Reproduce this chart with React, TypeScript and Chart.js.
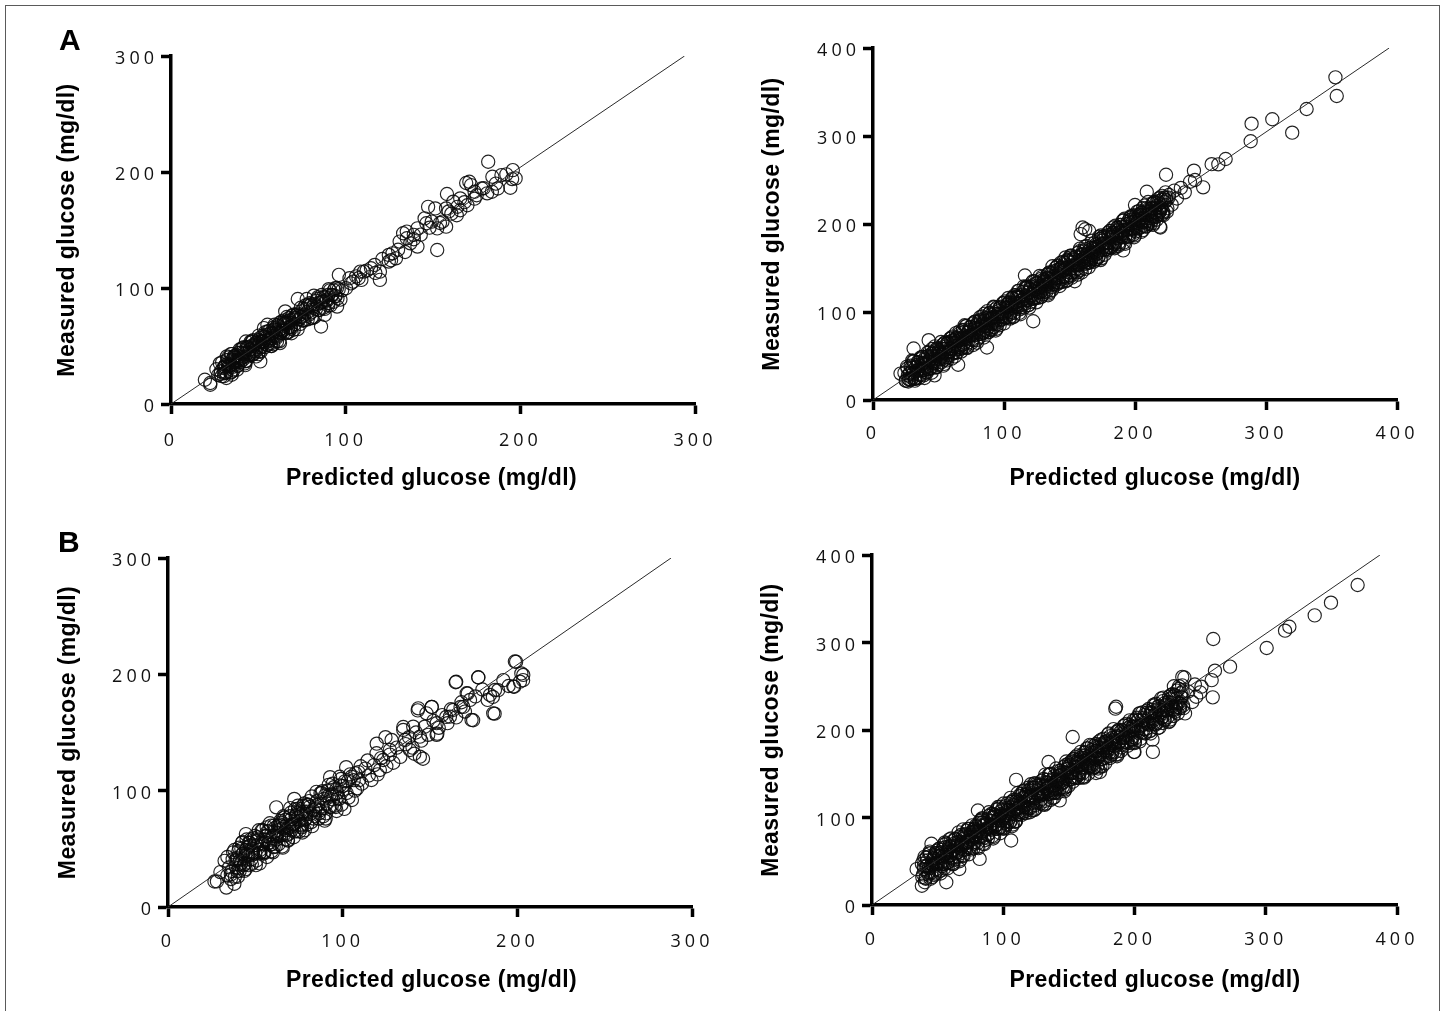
import React, { useEffect, useRef } from 'react';
import { Chart, registerables, LinearScale } from 'chart.js';

Chart.register(...registerables);

// ---------------- DATA ----------------
const ticks300 = [0, 100, 200, 300];
const ticks400 = [0, 100, 200, 300, 400];
const yTitle = 'Measured glucose (mg/dl)';
const xTitle = 'Predicted glucose (mg/dl)';

// reference lines: from origin to [predicted, measured]
const aLeftLineEnd: [number, number] = [294, 300];
const aRightLineEnd: [number, number] = [394, 400];
const bLeftLineEnd: [number, number] = [288, 300];
const bRightLineEnd: [number, number] = [387, 400];

// Panel A, left: [predicted, measured]
const aLeftPoints: [number, number][] = [
  [181.6, 208.8], [195.7, 201.6], [195.3, 193.9], [194.3, 186.4], [197.3, 194.5], [189.2, 197.3], [184, 195.9], [183.7, 183],
  [181, 181.6], [170.8, 191.6], [171.8, 188.7], [169, 190.5], [173.8, 177], [169.7, 171.3], [165.6, 167], [163.6, 162.7],
  [160.5, 164.1], [158, 181], [147.2, 170], [151.3, 168.6], [155.4, 157.2], [157.5, 152.9], [152.4, 151.4], [149.3, 157.2],
  [146.2, 155.8], [152.4, 132.8], [141.1, 135.7], [139, 145.8], [135, 142.9], [132.9, 147.2], [137, 138.5], [126.8, 129.9],
  [128.8, 125.6], [124.7, 122.8], [119.6, 114.1], [119.6, 107], [114.5, 117], [110.4, 114.1], [107.4, 108.4], [104.3, 105.5],
  [96.1, 111.3], [100.2, 99.8], [94, 99.8], [90, 94], [86.9, 88.3], [85.9, 66.8], [95.1, 84], [88, 76.8], [72.6, 90.5],
  [81.8, 93.4], [79.8, 84.9], [75.7, 82], [71.6, 76.3], [67.5, 74], [63.4, 71.1], [59.3, 68.3], [55.2, 62.5], [53.2, 65.4],
  [62.4, 52.5], [57.3, 56.8], [51.1, 53.9], [47, 51], [42.9, 53.9], [40.9, 48.2], [51.1, 36.7], [45, 42.4], [38.9, 36.7],
  [34.8, 33.8], [30.7, 32.4], [28.6, 28.1], [34.8, 25.2], [31.7, 22.4], [22.5, 18.1], [19.4, 20.9], [22.5, 16.6], [37.8, 29.5],
  [55.2, 68.3], [65.4, 79.8], [77.7, 90.5], [83.8, 90.5], [90, 84.9], [102.2, 108.4], [108.4, 114.1], [116.6, 119.9],
  [124.7, 128.5], [130.9, 140], [135, 148.6], [141.1, 151.4], [145.2, 160], [157.5, 168.6], [161.6, 174.4], [165.6, 177.2],
  [173.8, 183], [177.9, 185.8], [187.1, 185.8],
  [103, 104], [106, 110], [109, 107], [112, 115], [117, 113], [121, 125], [126, 124], [130, 133], [134, 131], [139, 142],
  [143, 146], [148, 152], [154, 156], [159, 166], [164, 170], [168, 174], [175, 180], [179, 186], [186, 190], [192, 198],
];
const aLeftCore: [number, number][] = [
  [26, 30], [27, 25], [28, 35], [29, 24], [30, 31], [31, 27], [32, 41], [33, 33], [34, 27], [35, 38], [36, 41], [37, 36],
  [38, 33], [39, 41], [40, 47], [41, 38], [42, 43], [43, 37], [44, 49], [45, 47], [46, 42], [47, 55], [48, 47], [49, 53],
  [50, 43], [51, 57], [52, 50], [53, 54], [54, 62], [55, 51], [56, 56], [57, 52], [58, 61], [59, 64], [60, 58], [61, 68],
  [62, 54], [63, 65], [64, 63], [65, 69], [66, 70], [67, 66], [68, 70], [69, 61], [70, 77], [71, 69], [72, 77], [73, 76],
  [74, 69], [75, 75], [76, 72], [77, 85], [78, 79], [79, 77], [80, 86], [81, 74], [82, 86], [83, 82], [84, 92], [85, 81],
  [86, 88], [87, 92], [88, 82], [89, 90], [90, 87], [91, 98], [92, 94], [93, 88], [94, 93], [95, 100], [96, 99], [97, 90], [98, 98],
  [30.5, 26.5], [32.5, 34.5], [34.5, 27.5], [36.5, 41.5], [38.5, 37.5], [40.5, 44.5], [42.5, 33.5], [44.5, 44.5], [46.5, 53.5],
  [48.5, 45.5], [50.5, 45.5], [52.5, 53.5], [54.5, 59.5], [56.5, 54.5], [58.5, 51.5], [60.5, 63.5], [62.5, 61.5], [64.5, 70.5],
  [66.5, 61.5], [68.5, 66.5], [70.5, 74.5], [72.5, 64.5], [74.5, 75.5], [76.5, 72.5], [78.5, 85.5], [80.5, 74.5],
  [28.3, 26], [29.3, 36], [30.3, 24], [31.3, 34], [32.3, 38], [33.3, 33], [34.3, 43], [35.3, 32], [36.3, 37], [37.3, 42],
  [38.3, 33], [39.3, 47], [40.3, 39], [41.3, 44], [42.3, 35], [43.3, 49], [44.3, 41], [45.3, 47], [46.3, 54], [47.3, 43],
  [48.3, 52], [49.3, 49], [50.3, 59], [51.3, 45], [52.3, 54], [53.3, 58], [54.3, 53], [55.3, 51], [56.3, 63], [57.3, 50],
  [58.3, 61], [59.3, 65], [60.3, 57], [61.3, 62], [62.3, 70], [63.3, 63], [64.3, 61], [65.3, 70], [66.3, 75], [67.3, 62],
  [68.3, 66], [69.3, 76], [70.3, 64], [71.3, 74], [72.3, 78], [73.3, 73], [74.3, 83], [75.3, 72], [76.3, 77], [77.3, 82],
  [78.3, 73], [79.3, 87], [80.3, 79], [81.3, 84], [82.3, 75], [83.3, 89], [84.3, 81], [85.3, 87], [86.3, 94], [87.3, 83],
  [88.3, 92], [89.3, 89], [90.3, 99], [91.3, 85], [92.3, 94], [93.3, 98], [94.3, 93], [95.3, 91],
  [30.7, 32], [31.7, 27], [32.7, 40], [33.7, 32], [34.7, 43], [35.7, 29], [36.7, 40], [37.7, 38], [38.7, 44], [39.7, 36],
  [40.7, 40], [41.7, 49], [42.7, 37], [43.7, 48], [44.7, 43], [45.7, 54], [46.7, 43], [47.7, 50], [48.7, 41], [49.7, 55],
  [50.7, 52], [51.7, 49], [52.7, 59], [53.7, 49], [54.7, 57], [55.7, 55], [56.7, 61], [57.7, 50], [58.7, 66], [59.7, 59],
  [60.7, 54], [61.7, 67], [62.7, 61], [63.7, 64], [64.7, 72], [65.7, 61], [66.7, 69], [67.7, 72], [68.7, 65], [69.7, 73],
];

// Panel A, right: [predicted, measured]
const aRightPoints: [number, number][] = [
  [24, 31], [25, 22], [26, 38], [27, 21], [28, 30], [29, 23], [30, 45], [31, 31], [32, 22], [33, 38], [34, 43], [35, 34],
  [36, 28], [37, 41], [38, 49], [39, 34], [40, 41], [41, 31], [42, 50], [43, 46], [44, 37], [45, 58], [46, 44], [47, 53],
  [48, 37], [49, 59], [50, 46], [51, 53], [52, 66], [53, 47], [54, 54], [55, 46], [56, 61], [57, 65], [58, 55], [59, 70],
  [60, 47], [61, 65], [62, 61], [63, 70], [64, 71], [65, 62], [66, 78], [67, 58], [68, 70], [69, 63], [70, 85], [71, 71],
  [72, 60], [73, 78], [74, 83], [75, 74], [76, 68], [77, 81], [78, 89], [79, 74], [80, 81], [81, 71], [82, 90], [83, 86],
  [84, 77], [85, 98], [86, 84], [87, 93], [88, 77], [89, 99], [90, 86], [91, 93], [92, 106], [93, 87], [94, 94], [95, 86],
  [96, 101], [97, 105], [98, 95], [99, 110], [100, 87], [101, 105], [102, 101], [103, 110], [104, 111], [105, 104], [106, 110],
  [107, 94], [108, 119], [109, 106], [110, 118], [111, 116], [112, 103], [113, 113], [114, 108], [115, 129], [116, 118],
  [117, 113], [118, 128], [119, 108], [120, 126], [121, 119], [122, 135], [123, 116], [124, 127], [125, 133], [126, 116],
  [127, 128], [128, 123], [129, 140], [130, 134], [131, 123], [132, 131], [133, 142], [134, 139], [135, 123], [136, 136],
  [137, 152], [138, 132], [139, 141], [140, 131], [141, 153], [142, 139], [143, 150], [144, 151], [145, 157], [146, 148],
  [147, 162], [148, 136], [149, 158], [150, 142], [151, 162], [152, 153], [153, 161], [154, 147], [155, 153], [156, 145],
  [157, 153], [158, 172], [159, 159], [160, 165], [161, 158], [162, 149], [163, 162], [164, 161], [165, 156], [166, 160],
  [167, 167], [168, 173], [169, 168], [170, 174], [171, 166], [172, 162], [173, 176], [174, 187], [175, 181], [176, 186],
  [177, 179], [178, 172], [179, 170], [180, 188], [181, 192], [182, 186], [183, 190], [184, 177], [185, 198], [186, 184],
  [187, 193], [188, 177], [189, 199], [190, 186], [191, 193], [192, 206], [193, 187], [194, 194], [195, 186], [196, 201],
  [197, 205], [198, 195], [199, 210], [200, 187], [201, 205], [202, 201], [203, 210], [204, 211], [205, 202], [206, 218],
  [207, 198], [208, 210], [209, 203], [210, 225], [211, 211], [212, 200], [213, 218], [214, 223], [215, 214], [216, 208],
  [217, 221], [218, 229], [219, 214], [220, 221], [221, 211], [222, 230], [224, 227], [226, 233], [228, 222], [230, 238],
  [232, 229], [235, 241], [238, 236],
  [353, 366.7], [354, 345.5], [331, 330.7], [320, 303.8], [304.8, 319], [289, 314], [288.3, 294], [269.2, 273.9], [263.6, 267.8],
  [258.5, 268], [245, 260.6], [252, 241.7], [245.8, 250], [242, 248], [223.7, 256], [219, 197], [221.7, 210], [209, 236.7],
  [191, 170], [200, 221.6], [206, 193], [122.3, 89.5], [116, 141.5], [87, 59.7], [65, 40], [47, 28], [21, 30], [31, 58.5],
  [42.5, 68], [219.4, 196], [160, 196], [158.5, 188.5], [154, 135], [162, 194], [165, 192],
];
const aRightBand2: [number, number][] = [
  [30.5, 36.5], [32.5, 24], [34.5, 34.5], [36.5, 48.5], [38.5, 33.5], [40.5, 31.5], [42.5, 43.5], [44.5, 52.5], [46.5, 42.5],
  [48.5, 37.5], [50.5, 55.5], [52.5, 51.5], [54.5, 64.5], [56.5, 48.5], [58.5, 55.5], [60.5, 67.5], [62.5, 49.5], [64.5, 66.5],
  [66.5, 60.5], [68.5, 79.5], [70.5, 60.5], [72.5, 76.5], [74.5, 72.5], [76.5, 62.5], [78.5, 84.5], [80.5, 80.5], [82.5, 91.5],
  [84.5, 79.5], [86.5, 78.5], [88.5, 91.5], [90.5, 79.5], [92.5, 105.5], [94.5, 90.5], [96.5, 97.5], [98.5, 91.5], [100.5, 93.5],
  [102.5, 105.5], [104.5, 92.5], [106.5, 115.5], [108.5, 106.5], [110.5, 116.5], [112.5, 97.5], [114.5, 114.5], [116.5, 128.5],
  [118.5, 113.5], [120.5, 111.5], [122.5, 123.5], [124.5, 132.5], [126.5, 122.5], [128.5, 117.5], [130.5, 135.5], [132.5, 131.5],
  [134.5, 144.5], [136.5, 128.5], [138.5, 135.5], [140.5, 147.5], [142.5, 129.5], [144.5, 146.5], [146.5, 140.5], [148.5, 159.5],
  [150.5, 140.5], [152.5, 156.5], [154.5, 152.5], [156.5, 142.5], [158.5, 164.5], [160.5, 160.5], [162.5, 171.5], [164.5, 159.5],
  [166.5, 158.5], [168.5, 171.5], [170.5, 159.5], [172.5, 185.5], [174.5, 170.5], [176.5, 177.5], [178.5, 171.5], [180.5, 173.5],
  [182.5, 185.5], [184.5, 172.5], [186.5, 195.5], [188.5, 186.5], [190.5, 196.5], [192.5, 177.5], [194.5, 194.5], [196.5, 208.5],
  [198.5, 193.5], [200.5, 191.5], [202.5, 203.5], [204.5, 212.5], [206.5, 202.5], [208.5, 197.5], [210.5, 215.5], [212.5, 211.5],
  [214.5, 224.5], [216.5, 208.5], [218.5, 215.5], [220.5, 227.5],
];
const aRightBand3: [number, number][] = [
  [25.3, 22], [26.3, 36], [27.3, 24], [28.3, 31], [29.3, 37], [30.3, 29], [31.3, 44], [32.3, 25], [33.3, 33], [34.3, 40],
  [35.3, 25], [36.3, 47], [37.3, 34], [38.3, 42], [39.3, 25], [40.3, 49], [41.3, 35], [42.3, 44], [43.3, 55], [44.3, 36],
  [45.3, 50], [46.3, 44], [47.3, 61], [48.3, 37], [49.3, 50], [50.3, 57], [51.3, 47], [52.3, 43], [53.3, 63], [54.3, 41],
  [55.3, 58], [56.3, 64], [57.3, 51], [58.3, 58], [59.3, 70], [60.3, 58], [61.3, 54], [62.3, 68], [63.3, 76], [64.3, 54],
  [65.3, 60], [66.3, 76], [67.3, 55], [68.3, 71], [69.3, 77], [70.3, 69], [71.3, 84], [72.3, 65], [73.3, 73], [74.3, 80],
  [75.3, 65], [76.3, 87], [77.3, 74], [78.3, 82], [79.3, 65], [80.3, 89], [81.3, 75], [82.3, 84], [83.3, 95], [84.3, 76],
  [85.3, 90], [86.3, 84], [87.3, 101], [88.3, 77], [89.3, 90], [90.3, 97], [91.3, 87], [92.3, 83], [93.3, 103], [94.3, 81],
  [95.3, 98], [96.3, 104], [97.3, 91], [98.3, 98], [99.3, 110], [100.3, 98], [101.3, 94], [102.3, 108], [103.3, 116], [104.3, 94],
  [105.3, 100], [106.3, 116], [107.3, 95], [108.3, 111], [109.3, 117], [110.3, 109], [111.3, 124], [112.3, 105], [113.3, 113], [114.3, 120],
  [115.3, 105], [116.3, 127], [117.3, 114], [118.3, 122], [119.3, 105], [120.3, 129], [121.3, 115], [122.3, 124], [123.3, 135], [124.3, 116],
  [125.3, 130], [126.3, 124], [127.3, 141], [128.3, 117], [129.3, 130], [130.3, 137], [131.3, 127], [132.3, 123], [133.3, 143], [134.3, 121],
  [135.3, 138], [136.3, 144], [137.3, 131], [138.3, 138], [139.3, 150], [140.3, 138], [141.3, 134], [142.3, 148], [143.3, 156], [144.3, 134],
  [145.3, 140], [146.3, 156], [147.3, 135], [148.3, 151], [149.3, 157], [150.3, 149], [151.3, 164], [152.3, 145], [153.3, 153], [154.3, 160],
  [155.3, 145], [156.3, 167], [157.3, 154], [158.3, 162], [159.3, 145], [160.3, 169], [161.3, 155], [162.3, 164], [163.3, 175], [164.3, 156],
  [165.3, 170], [166.3, 164], [167.3, 181], [168.3, 157], [169.3, 170], [170.3, 177], [171.3, 167], [172.3, 163], [173.3, 183], [174.3, 161],
  [175.3, 178], [176.3, 184], [177.3, 171], [178.3, 178], [179.3, 190], [180.3, 178], [181.3, 174], [182.3, 188], [183.3, 196], [184.3, 174],
  [185.3, 180], [186.3, 196], [187.3, 175], [188.3, 191], [189.3, 197], [190.3, 189], [191.3, 204], [192.3, 185], [193.3, 193], [194.3, 200],
  [195.3, 185], [196.3, 207], [197.3, 194], [198.3, 202], [199.3, 185], [200.3, 209], [201.3, 195], [202.3, 204], [203.3, 215], [204.3, 196],
  [205.3, 210], [206.3, 204], [207.3, 221], [208.3, 197], [209.3, 210], [210.3, 217], [211.3, 207], [212.3, 203], [213.3, 223], [214.3, 201],
  [215.3, 218], [216.3, 224], [217.3, 211], [218.3, 218], [219.3, 230], [220.3, 218], [221.3, 214], [222.3, 228], [223.3, 236], [224.3, 214],
];
const aRightBand4: [number, number][] = [
  [26.7, 28], [27.7, 23], [28.7, 39], [29.7, 25], [30.7, 44], [31.7, 24], [32.7, 37], [33.7, 33], [34.7, 43], [35.7, 29],
  [36.7, 35], [37.7, 49], [38.7, 28], [39.7, 46], [40.7, 37], [41.7, 54], [42.7, 35], [43.7, 46], [44.7, 31], [45.7, 53],
  [46.7, 47], [47.7, 42], [48.7, 58], [49.7, 40], [50.7, 54], [51.7, 49], [52.7, 58], [53.7, 39], [54.7, 65], [55.7, 54],
  [56.7, 45], [57.7, 66], [58.7, 54], [59.7, 59], [60.7, 72], [61.7, 53], [62.7, 65], [63.7, 70], [64.7, 58], [65.7, 70],
  [66.7, 68], [67.7, 59], [68.7, 79], [69.7, 65], [70.7, 84], [71.7, 59], [72.7, 77], [73.7, 73], [74.7, 83], [75.7, 69],
  [76.7, 75], [77.7, 89], [78.7, 68], [79.7, 86], [80.7, 77], [81.7, 94], [82.7, 75], [83.7, 86], [84.7, 71], [85.7, 93],
  [86.7, 87], [87.7, 82], [88.7, 98], [89.7, 80], [90.7, 94], [91.7, 89], [92.7, 98], [93.7, 79], [94.7, 105], [95.7, 94],
  [96.7, 85], [97.7, 106], [98.7, 94], [99.7, 99], [100.7, 112], [101.7, 93], [102.7, 105], [103.7, 110], [104.7, 98], [105.7, 110],
  [106.7, 108], [107.7, 99], [108.7, 119], [109.7, 105], [110.7, 124], [111.7, 99], [112.7, 117], [113.7, 113], [114.7, 123], [115.7, 109],
  [116.7, 115], [117.7, 129], [118.7, 108], [119.7, 126], [120.7, 117], [121.7, 134], [122.7, 115], [123.7, 126], [124.7, 111], [125.7, 133],
  [126.7, 127], [127.7, 122], [128.7, 138], [129.7, 120], [130.7, 134], [131.7, 129], [132.7, 138], [133.7, 119], [134.7, 145], [135.7, 134],
  [136.7, 125], [137.7, 146], [138.7, 134], [139.7, 139], [140.7, 152], [141.7, 133], [142.7, 145], [143.7, 150], [144.7, 138], [145.7, 150],
  [146.7, 148], [147.7, 139], [148.7, 159], [149.7, 145], [150.7, 164], [151.7, 139], [152.7, 157], [153.7, 153], [154.7, 163], [155.7, 149],
  [156.7, 155], [157.7, 169], [158.7, 148], [159.7, 166], [160.7, 157], [161.7, 174], [162.7, 155], [163.7, 166], [164.7, 151], [165.7, 173],
  [166.7, 167], [167.7, 162], [168.7, 178], [169.7, 160], [170.7, 174], [171.7, 169], [172.7, 178], [173.7, 159], [174.7, 185], [175.7, 174],
  [176.7, 165], [177.7, 186], [178.7, 174], [179.7, 179], [180.7, 192], [181.7, 173], [182.7, 185], [183.7, 190], [184.7, 178], [185.7, 190],
  [186.7, 188], [187.7, 179], [188.7, 199], [189.7, 185], [190.7, 204], [191.7, 179], [192.7, 197], [193.7, 193], [194.7, 203], [195.7, 189],
  [196.7, 195], [197.7, 209], [198.7, 188], [199.7, 206], [200.7, 197], [201.7, 214], [202.7, 195], [203.7, 206], [204.7, 191], [205.7, 213],
  [206.7, 207], [207.7, 202], [208.7, 218], [209.7, 200], [210.7, 214], [211.7, 209], [212.7, 218], [213.7, 199], [214.7, 225], [215.7, 214],
  [216.7, 205], [217.7, 226], [218.7, 214], [219.7, 219], [220.7, 232], [221.7, 213], [222.7, 225], [223.7, 230], [224.7, 218], [225.7, 230],
];

// Panel B, left: [predicted, measured]
const bLeftPoints: [number, number][] = [
  [198.6, 211], [177.6, 197.5], [164.7, 193.2], [186.2, 166.5], [201.5, 193.7], [203.4, 199.5], [197.7, 189.5], [187.2, 186.6],
  [184.3, 182.3], [171, 183.7], [172.9, 178], [173.8, 160.8], [169, 172], [163.3, 169.4], [161.4, 163.6], [151, 172], [148, 166.5],
  [143.3, 170.8], [153.8, 158], [153.8, 148], [144.2, 146.4], [140.4, 155], [134.7, 152.2], [135.7, 143.6], [128, 143.6],
  [127, 135], [144.2, 129.2], [138.5, 135], [123.2, 126.4], [119.4, 132.2], [121.3, 117.8], [116.5, 109.2], [26.6, 21.9],
  [33.4, 16.7], [44.6, 62.7], [32.4, 39.7], [62, 85.7], [72.3, 92.9], [89.7, 74.2], [101, 84.3], [92.8, 111.6], [102, 120.2],
  [114.3, 126], [119.5, 140.4], [124.5, 146], [146, 127.4], [141, 131.7], [134.7, 154.7], [143, 169], [151, 172], [154.2, 149],
  [165, 193.6], [177.7, 197.3], [187, 166.2], [174.7, 160.5], [199.3, 210.8], [202.3, 200.8], [203.3, 195], [198.2, 189.3],
  [189, 186.4], [186, 180.6], [171.6, 183.5], [167.5, 172], [159.3, 163.4],
  [103, 108], [105, 112], [107, 100], [109, 116], [111, 106], [113, 119], [115, 113], [118, 122], [120, 114], [122, 128],
  [125, 121], [127, 131], [129, 124], [131, 137], [133, 129], [136, 140], [138, 146], [140, 137], [142, 150], [145, 143],
  [147, 155], [149, 148], [152, 160], [155, 154], [157, 165], [160, 158], [162, 170], [165, 163], [168, 176], [170, 168],
  [176, 181], [180, 187], [183, 178], [192, 195], [195, 190],
  [28, 22], [30, 30], [36, 24], [38, 20], [34, 27], [40, 26], [42, 38],
];
const bLeftCore: [number, number][] = [
  [34, 43], [35, 34], [36, 28], [37, 41], [38, 49], [39, 34], [40, 41], [41, 31], [42, 50], [43, 46], [44, 37], [45, 58],
  [46, 44], [47, 53], [48, 37], [49, 59], [50, 46], [51, 53], [52, 66], [53, 47], [54, 54], [55, 46], [56, 61], [57, 65],
  [58, 55], [59, 70], [60, 47], [61, 65], [62, 61], [63, 70], [64, 71], [65, 62], [66, 78], [67, 58], [68, 70], [69, 63],
  [70, 85], [71, 71], [72, 60], [73, 78], [74, 81], [75, 74], [76, 80], [77, 64], [78, 89], [79, 76], [80, 88], [81, 86],
  [82, 73], [83, 83], [84, 78], [85, 99], [86, 88], [87, 83], [88, 98], [89, 78], [90, 96], [91, 89], [92, 105], [93, 86],
  [94, 97], [95, 103], [96, 86], [97, 98], [98, 93], [99, 110], [100, 104],
  [40.5, 33.5], [42.5, 45.5], [44.5, 32.5], [46.5, 55.5], [48.5, 46.5], [50.5, 56.5], [52.5, 37.5], [54.5, 54.5], [56.5, 68.5],
  [58.5, 53.5], [60.5, 51.5], [62.5, 63.5], [64.5, 72.5], [66.5, 62.5], [68.5, 57.5], [70.5, 75.5], [72.5, 71.5], [74.5, 84.5],
  [76.5, 68.5], [78.5, 75.5], [80.5, 87.5], [82.5, 69.5], [84.5, 86.5], [86.5, 80.5], [88.5, 99.5], [90.5, 80.5], [92.5, 96.5],
  [94.5, 92.5], [96.5, 82.5], [98.5, 104.5],
  [36.3, 31], [37.3, 47], [38.3, 26], [39.3, 42], [40.3, 48], [41.3, 40], [42.3, 55], [43.3, 36], [44.3, 44], [45.3, 51],
  [46.3, 36], [47.3, 58], [48.3, 45], [49.3, 53], [50.3, 36], [51.3, 60], [52.3, 46], [53.3, 55], [54.3, 66], [55.3, 47],
  [56.3, 61], [57.3, 55], [58.3, 72], [59.3, 48], [60.3, 61], [61.3, 68], [62.3, 58], [63.3, 54], [64.3, 74], [65.3, 52],
  [66.3, 69], [67.3, 75], [68.3, 62], [69.3, 69], [70.3, 81], [71.3, 69], [72.3, 65], [73.3, 79], [74.3, 87], [75.3, 65],
  [76.3, 71], [77.3, 87], [78.3, 66], [79.3, 82], [80.3, 88], [81.3, 80], [82.3, 95], [83.3, 76], [84.3, 84], [85.3, 91],
  [86.3, 76], [87.3, 98], [88.3, 85], [89.3, 93], [90.3, 76], [91.3, 100], [92.3, 86], [93.3, 95], [94.3, 106], [95.3, 87],
  [96.3, 101], [97.3, 95], [98.3, 112], [99.3, 88], [100.3, 101], [101.3, 108], [102.3, 98], [103.3, 94], [104.3, 114], [105.3, 92],
  [106.3, 109], [107.3, 115], [108.3, 102], [109.3, 109], [110.3, 121],
  [38.7, 40], [39.7, 31], [40.7, 51], [41.7, 37], [42.7, 56], [43.7, 31], [44.7, 49], [45.7, 45], [46.7, 55], [47.7, 41],
  [48.7, 47], [49.7, 61], [50.7, 40], [51.7, 58], [52.7, 49], [53.7, 66], [54.7, 47], [55.7, 58], [56.7, 43], [57.7, 65],
  [58.7, 59], [59.7, 54], [60.7, 70], [61.7, 52], [62.7, 66], [63.7, 61], [64.7, 70], [65.7, 51], [66.7, 77], [67.7, 66],
  [68.7, 57], [69.7, 78], [70.7, 66], [71.7, 71], [72.7, 84], [73.7, 65], [74.7, 77], [75.7, 82], [76.7, 70], [77.7, 82],
  [78.7, 80], [79.7, 71], [80.7, 91],
];

// Panel B, right: [predicted, measured]
const bRightPoints: [number, number][] = [
  [38, 47], [39, 35], [40, 55], [41, 30], [42, 45], [43, 35], [44, 61], [45, 45], [46, 32], [47, 53], [48, 59], [49, 47],
  [50, 40], [51, 56], [52, 65], [53, 47], [54, 55], [55, 42], [56, 66], [57, 61], [58, 49], [59, 75], [60, 57], [61, 68],
  [62, 47], [63, 75], [64, 59], [65, 67], [66, 83], [67, 59], [68, 68], [69, 57], [70, 76], [71, 81], [72, 68], [73, 87],
  [74, 58], [75, 80], [76, 75], [77, 86], [78, 87], [79, 78], [80, 85], [81, 65], [82, 96], [83, 79], [84, 94], [85, 91],
  [86, 74], [87, 87], [88, 80], [89, 106], [90, 92], [91, 86], [92, 104], [93, 78], [94, 101], [95, 92], [96, 112], [97, 88],
  [98, 102], [99, 109], [100, 87], [101, 102], [102, 96], [103, 116], [104, 109], [105, 95], [106, 104], [107, 118], [108, 114],
  [109, 95], [110, 110], [111, 128], [112, 104], [113, 116], [114, 103], [115, 130], [116, 112], [117, 126], [118, 127],
  [119, 134], [120, 123], [121, 138], [122, 108], [123, 134], [124, 114], [125, 138], [126, 127], [127, 137], [128, 119],
  [129, 126], [130, 115], [131, 126], [132, 149], [133, 133], [134, 140], [135, 131], [136, 120], [137, 136], [138, 134],
  [139, 128], [140, 132], [141, 141], [142, 148], [143, 141], [144, 149], [145, 139], [146, 133], [147, 151], [148, 164],
  [149, 156], [150, 162], [151, 153], [152, 144], [153, 141], [154, 164], [155, 169], [156, 161], [157, 166], [158, 149],
  [159, 175], [160, 157], [161, 168], [162, 147], [163, 175], [164, 159], [165, 167], [166, 183], [167, 159], [168, 168],
  [169, 157], [170, 176], [171, 181], [172, 168], [173, 187], [174, 158], [175, 180], [176, 175], [177, 186], [178, 187],
  [179, 175], [180, 195], [181, 170], [182, 185], [183, 175], [184, 201], [185, 185], [186, 172], [187, 193], [188, 199],
  [189, 187], [190, 180], [191, 196], [192, 205], [193, 187], [194, 195], [195, 182], [196, 206], [197, 201], [198, 189],
  [199, 203], [200, 185], [201, 212], [202, 199], [203, 211], [204, 187], [205, 205], [206, 220], [207, 201], [208, 197],
  [209, 211], [210, 220], [211, 206], [212, 199], [213, 219], [214, 213], [215, 228], [216, 206], [217, 213], [218, 227],
  [219, 203], [220, 223], [221, 214], [222, 237], [223, 211], [224, 229], [225, 223], [226, 209], [227, 235], [228, 228],
  [229, 241], [230, 224], [231, 221], [232, 236], [233, 219], [234, 250], [235, 230], [236, 237], [237, 228],
  [370, 365.7], [349.7, 345.5], [337.3, 331], [318, 318], [314.7, 313.5], [300.7, 293.7], [260, 304], [272.8, 272.4],
  [261.3, 267.8], [258.8, 257], [259.6, 237.3], [238, 260], [251, 249.5], [247, 238], [238.5, 219], [214, 175], [200, 175],
  [186, 226.6], [173.7, 152], [106, 73.7], [82, 52.7], [80.7, 108], [109.8, 143], [152.9, 192], [170.7, 150.8], [143, 119.5],
  [138.8, 123], [134.5, 163.4], [185.4, 224.4], [199.6, 174.8], [213.7, 189], [236.4, 260.7], [34, 41], [38, 22], [56.6, 26],
  [45.3, 70], [66.5, 41.2], [244, 232], [241, 244], [246, 252], [250, 243], [230, 250],
];
const bRightBand2: [number, number][] = [
  [39.5, 44.5], [41.5, 54.5], [43.5, 37.5], [45.5, 46.5], [47.5, 34.5], [49.5, 59.5], [51.5, 55.5], [53.5, 44.5], [55.5, 71.5],
  [57.5, 54.5], [59.5, 66.5], [61.5, 46.5], [63.5, 75.5], [65.5, 60.5], [67.5, 69.5], [69.5, 86.5], [71.5, 63.5], [73.5, 73.5],
  [75.5, 63.5], [77.5, 83.5], [79.5, 89.5], [81.5, 77.5], [83.5, 97.5], [85.5, 69.5], [87.5, 92.5], [89.5, 88.5], [91.5, 100.5],
  [93.5, 102.5], [95.5, 91.5], [97.5, 112.5], [99.5, 88.5], [101.5, 104.5], [103.5, 95.5], [105.5, 122.5], [107.5, 107.5],
  [109.5, 95.5], [111.5, 117.5], [113.5, 124.5], [115.5, 113.5], [117.5, 107.5], [119.5, 110.5], [121.5, 125.5], [123.5, 108.5],
  [125.5, 136.5], [127.5, 124.5], [129.5, 137.5], [131.5, 114.5], [133.5, 133.5], [135.5, 149.5], [137.5, 131.5], [139.5, 128.5],
  [141.5, 143.5], [143.5, 153.5], [145.5, 140.5], [147.5, 134.5], [149.5, 155.5], [151.5, 150.5], [153.5, 166.5], [155.5, 145.5],
  [157.5, 153.5], [159.5, 168.5], [161.5, 145.5], [163.5, 166.5], [165.5, 158.5], [167.5, 182.5], [169.5, 157.5], [171.5, 176.5],
  [173.5, 171.5], [175.5, 158.5], [177.5, 185.5], [179.5, 179.5],
];
const bRightBand3: [number, number][] = [
  [38.3, 32], [39.3, 51], [40.3, 26], [41.3, 44], [42.3, 51], [43.3, 42], [44.3, 59], [45.3, 37], [46.3, 46], [47.3, 54],
  [48.3, 36], [49.3, 62], [50.3, 47], [51.3, 56], [52.3, 36], [53.3, 63], [54.3, 47], [55.3, 57], [56.3, 70], [57.3, 48],
  [58.3, 64], [59.3, 57], [60.3, 76], [61.3, 48], [62.3, 63], [63.3, 71], [64.3, 59], [65.3, 55], [66.3, 78], [67.3, 52],
  [68.3, 71], [69.3, 78], [70.3, 63], [71.3, 71], [72.3, 85], [73.3, 71], [74.3, 66], [75.3, 82], [76.3, 91], [77.3, 65],
  [78.3, 72], [79.3, 91], [80.3, 66], [81.3, 84], [82.3, 91], [83.3, 82], [84.3, 99], [85.3, 77], [86.3, 86], [87.3, 94],
  [88.3, 76], [89.3, 102], [90.3, 87], [91.3, 96], [92.3, 76], [93.3, 103], [94.3, 87], [95.3, 97], [96.3, 110], [97.3, 88],
  [98.3, 104], [99.3, 97], [100.3, 116], [101.3, 88], [102.3, 103], [103.3, 111], [104.3, 99], [105.3, 95], [106.3, 118], [107.3, 92],
  [108.3, 111], [109.3, 118], [110.3, 103], [111.3, 111], [112.3, 125], [113.3, 111], [114.3, 106], [115.3, 122], [116.3, 131], [117.3, 105],
  [118.3, 112], [119.3, 131], [120.3, 106], [121.3, 124], [122.3, 131], [123.3, 122], [124.3, 139], [125.3, 117], [126.3, 126], [127.3, 134],
  [128.3, 116], [129.3, 142], [130.3, 127], [131.3, 136], [132.3, 116], [133.3, 143], [134.3, 127], [135.3, 137], [136.3, 150], [137.3, 128],
  [138.3, 144], [139.3, 137], [140.3, 156], [141.3, 128], [142.3, 143], [143.3, 151], [144.3, 139], [145.3, 135], [146.3, 158], [147.3, 132],
  [148.3, 151], [149.3, 158], [150.3, 143], [151.3, 151], [152.3, 165], [153.3, 151], [154.3, 146], [155.3, 162], [156.3, 171], [157.3, 145],
  [158.3, 152], [159.3, 171], [160.3, 146], [161.3, 164], [162.3, 171], [163.3, 162], [164.3, 179], [165.3, 157], [166.3, 166], [167.3, 174],
  [168.3, 156], [169.3, 182], [170.3, 167], [171.3, 176], [172.3, 156], [173.3, 183], [174.3, 167], [175.3, 177], [176.3, 190], [177.3, 168],
  [178.3, 184], [179.3, 177], [180.3, 196], [181.3, 168], [182.3, 183], [183.3, 191], [184.3, 179], [185.3, 175], [186.3, 198], [187.3, 172],
  [188.3, 191], [189.3, 198], [190.3, 183], [191.3, 191], [192.3, 205], [193.3, 191], [194.3, 186], [195.3, 202], [196.3, 211], [197.3, 185],
  [198.3, 192], [199.3, 211], [200.3, 186], [201.3, 204], [202.3, 211], [203.3, 202], [204.3, 219], [205.3, 197], [206.3, 206], [207.3, 214],
  [208.3, 196], [209.3, 222], [210.3, 207], [211.3, 216], [212.3, 196], [213.3, 223], [214.3, 207], [215.3, 217], [216.3, 230], [217.3, 208],
  [218.3, 224], [219.3, 217], [220.3, 236], [221.3, 208], [222.3, 223], [223.3, 231], [224.3, 219], [225.3, 215], [226.3, 238], [227.3, 212],
  [228.3, 231], [229.3, 238], [230.3, 223], [231.3, 231], [232.3, 245], [233.3, 231], [234.3, 226], [235.3, 242], [236.3, 251], [237.3, 225],
];
const bRightBand4: [number, number][] = [
  [39.7, 41], [40.7, 31], [41.7, 54], [42.7, 37], [43.7, 59], [44.7, 30], [45.7, 51], [46.7, 46], [47.7, 57], [48.7, 41],
  [49.7, 48], [50.7, 64], [51.7, 39], [52.7, 60], [53.7, 50], [54.7, 69], [55.7, 47], [56.7, 59], [57.7, 42], [58.7, 67],
  [59.7, 60], [60.7, 54], [61.7, 73], [62.7, 52], [63.7, 68], [64.7, 62], [65.7, 72], [66.7, 50], [67.7, 80], [68.7, 67],
  [69.7, 56], [70.7, 80], [71.7, 66], [72.7, 72], [73.7, 87], [74.7, 65], [75.7, 78], [76.7, 84], [77.7, 70], [78.7, 84],
  [79.7, 81], [80.7, 71], [81.7, 94], [82.7, 77], [83.7, 99], [84.7, 70], [85.7, 91], [86.7, 86], [87.7, 97], [88.7, 81],
  [89.7, 88], [90.7, 104], [91.7, 79], [92.7, 100], [93.7, 90], [94.7, 109], [95.7, 87], [96.7, 99], [97.7, 82], [98.7, 107],
  [99.7, 100], [100.7, 94], [101.7, 113], [102.7, 92], [103.7, 108], [104.7, 102], [105.7, 112], [106.7, 90], [107.7, 120], [108.7, 107],
  [109.7, 96], [110.7, 120], [111.7, 106], [112.7, 112], [113.7, 127], [114.7, 105], [115.7, 118], [116.7, 124], [117.7, 110], [118.7, 124],
  [119.7, 121], [120.7, 111], [121.7, 134], [122.7, 117], [123.7, 139], [124.7, 110], [125.7, 131], [126.7, 126], [127.7, 137], [128.7, 121],
  [129.7, 128], [130.7, 144], [131.7, 119], [132.7, 140], [133.7, 130], [134.7, 149], [135.7, 127], [136.7, 139], [137.7, 122], [138.7, 147],
  [139.7, 140], [140.7, 134], [141.7, 153], [142.7, 132], [143.7, 148], [144.7, 142], [145.7, 152], [146.7, 130], [147.7, 160], [148.7, 147],
  [149.7, 136], [150.7, 160], [151.7, 146], [152.7, 152], [153.7, 167], [154.7, 145], [155.7, 158], [156.7, 164], [157.7, 150], [158.7, 164],
  [159.7, 161], [160.7, 151], [161.7, 174], [162.7, 157], [163.7, 179], [164.7, 150], [165.7, 171], [166.7, 166], [167.7, 177], [168.7, 161],
  [169.7, 168], [170.7, 184], [171.7, 159], [172.7, 180], [173.7, 170], [174.7, 189], [175.7, 167], [176.7, 179], [177.7, 162], [178.7, 187],
  [179.7, 180], [180.7, 174], [181.7, 193], [182.7, 172], [183.7, 188], [184.7, 182], [185.7, 192], [186.7, 170], [187.7, 200], [188.7, 187],
  [189.7, 176], [190.7, 200], [191.7, 186], [192.7, 192], [193.7, 207], [194.7, 185], [195.7, 198], [196.7, 204], [197.7, 190], [198.7, 204],
  [199.7, 201], [200.7, 191], [201.7, 214], [202.7, 197], [203.7, 219], [204.7, 190], [205.7, 211], [206.7, 206], [207.7, 217], [208.7, 201],
  [209.7, 208], [210.7, 224], [211.7, 199], [212.7, 220], [213.7, 210], [214.7, 229], [215.7, 207], [216.7, 219], [217.7, 202], [218.7, 227],
  [219.7, 220], [220.7, 214], [221.7, 233], [222.7, 212], [223.7, 228], [224.7, 222], [225.7, 232], [226.7, 210], [227.7, 240], [228.7, 227],
  [229.7, 216], [230.7, 240], [231.7, 226], [232.7, 232], [233.7, 247], [234.7, 225], [235.7, 238], [236.7, 244],
];

// ---------------- SCALE WITH LETTER SPACING ----------------
class SpacedLinearScale extends (LinearScale as any) {
  static id = 'spacedLinear';
  drawLabels(chartArea: any) {
    const ctx = (this as any).ctx;
    const o = (this as any).options;
    ctx.save();
    ctx.letterSpacing = o.labelLetterSpacing || '0px';
    super.drawLabels(chartArea);
    ctx.restore();
  }
  drawTitle() {
    const ctx = (this as any).ctx;
    const o = (this as any).options;
    ctx.save();
    ctx.letterSpacing = o.titleLetterSpacing || '0px';
    ctx.translate(o.titleShiftX || 0, 0);
    super.drawTitle();
    ctx.restore();
  }
}
Chart.register(SpacedLinearScale as any);

// ---------------- LAYOUT ----------------
const Y_AXIS_W = 140;
const X_AXIS_H = 106;
const PAD_TOP = 26;
const PAD_RIGHT = 25;
const TITLE_SIZE = 23;
const TICK_SIZE = 18;

type PanelSpec = {
  points: [number, number][];
  lineEnd: [number, number];
  max: number;
  ticks: number[];
  left: number; right: number; top: number; bottom: number;
  yTitleCx: number;
  xTitleDist: number;
  xTitleShift: number;
  xLabelPad: number;
};

const panels: PanelSpec[] = [
  { points: [...aLeftPoints, ...aLeftCore], lineEnd: aLeftLineEnd, max: 300, ticks: ticks300, left: 171, right: 695, top: 56, bottom: 404, yTitleCx: 67.5, xTitleDist: 75, xTitleShift: -1.5, xLabelPad: 16 },
  { points: [...aRightPoints, ...aRightBand2, ...aRightBand3, ...aRightBand4], lineEnd: aRightLineEnd, max: 400, ticks: ticks400, left: 873, right: 1397, top: 48, bottom: 400, yTitleCx: 772.5, xTitleDist: 79, xTitleShift: 20, xLabelPad: 13 },
  { points: [...bLeftPoints, ...bLeftCore], lineEnd: bLeftLineEnd, max: 300, ticks: ticks300, left: 168, right: 692, top: 558, bottom: 907, yTitleCx: 69, xTitleDist: 74, xTitleShift: 1.5, xLabelPad: 14 },
  { points: [...bRightPoints, ...bRightBand2, ...bRightBand3, ...bRightBand4], lineEnd: bRightLineEnd, max: 400, ticks: ticks400, left: 872, right: 1397, top: 555, bottom: 905, yTitleCx: 772, xTitleDist: 76, xTitleShift: 20.5, xLabelPad: 14 },
];

function Panel({ spec }: { spec: PanelSpec }) {
  const ref = useRef<HTMLCanvasElement>(null);
  const cLeft = spec.left - Y_AXIS_W;
  const cTop = spec.top - PAD_TOP;
  const w = spec.right + PAD_RIGHT - cLeft;
  const h = spec.bottom + X_AXIS_H - cTop;

  useEffect(() => {
    const lineH = TITLE_SIZE * 1.2;
    const tickFont = { family: '"Open Sans", "DejaVu Sans", sans-serif', size: TICK_SIZE, weight: 'normal' as const };
    const titleFont = { family: '"Liberation Sans", Arial, sans-serif', size: TITLE_SIZE, weight: 'bold' as const };
    const common = {
      type: 'spacedLinear',
      min: 0,
      max: spec.max,
      labelLetterSpacing: '4px',
      titleLetterSpacing: '0.4px',
      afterBuildTicks: (scale: any) => {
        scale.ticks = spec.ticks.map((v) => ({ value: v }));
      },
      border: { display: true, color: '#000', width: 3.5 },
      grid: { display: true, drawOnChartArea: false, drawTicks: true, tickLength: 10, tickWidth: 3.5, tickColor: '#000' },
    };
    const chart = new Chart(ref.current as HTMLCanvasElement, {
      type: 'scatter',
      data: {
        datasets: [
          {
            data: [{ x: 0, y: 0 }, { x: spec.lineEnd[0], y: spec.lineEnd[1] }],
            showLine: true,
            borderColor: '#2a2a2a',
            borderWidth: 1,
            pointRadius: 0,
            pointHoverRadius: 0,
          } as any,
          {
            data: spec.points.map(([x, y]) => ({ x, y })),
            pointStyle: 'circle',
            pointRadius: 6.6,
            pointBorderWidth: 1.15,
            pointBorderColor: 'rgba(10,10,10,0.9)',
            pointBackgroundColor: 'rgba(0,0,0,0)',
            showLine: false,
          } as any,
        ],
      },
      options: {
        animation: false,
        responsive: false,
        maintainAspectRatio: false,
        events: [],
        layout: { padding: { top: PAD_TOP, right: PAD_RIGHT, left: 0, bottom: 0 } },
        plugins: { legend: { display: false }, tooltip: { enabled: false } },
        scales: {
          x: {
            ...common,
            position: 'bottom',
            titleShiftX: spec.xTitleShift,
            afterFit: (scale: any) => {
              scale.height = X_AXIS_H;
              scale.paddingLeft = 0;
              scale.paddingRight = 0;
            },
            ticks: { font: tickFont, color: '#111', padding: spec.xLabelPad, maxRotation: 0, autoSkip: false, callback: (v: any) => String(v) },
            title: { display: true, text: xTitle, color: '#000', font: titleFont, padding: { top: 0, bottom: (X_AXIS_H - spec.xTitleDist) - lineH / 2 } },
          },
          y: {
            ...common,
            position: 'left',
            titleShiftX: 0,
            afterFit: (scale: any) => {
              scale.width = Y_AXIS_W;
              scale.paddingTop = 0;
              scale.paddingBottom = 0;
            },
            ticks: { font: tickFont, color: '#111', padding: 3, labelOffset: 3, autoSkip: false, callback: (v: any) => String(v) },
            title: { display: true, text: yTitle, color: '#000', font: titleFont, padding: { top: spec.yTitleCx - cLeft - lineH / 2, bottom: 0 } },
          },
        } as any,
      },
    } as any);
    return () => chart.destroy();
  }, []);

  return (
    <canvas
      ref={ref}
      width={w}
      height={h}
      style={{ position: 'absolute', left: cLeft, top: cTop, width: w, height: h }}
    />
  );
}

export default function App() {
  const letterStyle: React.CSSProperties = {
    position: 'absolute',
    fontFamily: '"Liberation Sans", Arial, sans-serif',
    fontWeight: 'bold',
    fontSize: 30,
    lineHeight: '30px',
    color: '#000',
  };
  return (
    <div style={{ position: 'absolute', left: 0, top: 0, width: 1447, height: 1011, overflow: 'hidden', background: '#fff' }}>
      <div style={{ position: 'absolute', left: 5, top: 5, width: 1433, height: 1100, border: '1px solid #5a5a5a' }} />
      {panels.map((p, i) => (
        <Panel key={i} spec={p} />
      ))}
      <div style={{ ...letterStyle, left: 59, top: 25 }}>A</div>
      <div style={{ ...letterStyle, left: 58, top: 527 }}>B</div>
    </div>
  );
}
